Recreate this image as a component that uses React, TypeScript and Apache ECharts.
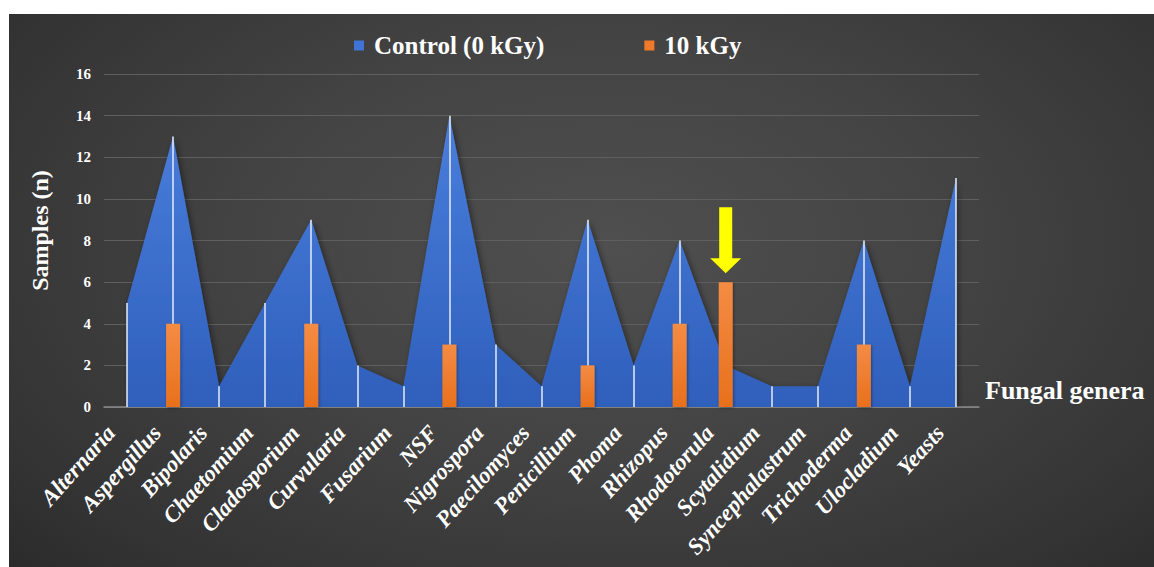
import React, { useEffect, useRef } from "react";
import * as echarts from "echarts";

const categories = [
  "Alternaria", "Aspergillus", "Bipolaris", "Chaetomium", "Cladosporium",
  "Curvularia", "Fusarium", "NSF", "Nigrospora", "Paecilomyces",
  "Penicillium", "Phoma", "Rhizopus", "Rhodotorula", "Scytalidium",
  "Syncephalastrum", "Trichoderma", "Ulocladium", "Yeasts",
];
const controlValues = [5, 13, 1, 5, 9, 2, 1, 14, 3, 1, 9, 2, 8, 2, 1, 1, 8, 1, 11];
const tenKGyValues = [0, 4, 0, 0, 4, 0, 0, 3, 0, 0, 2, 0, 4, 6, 0, 0, 3, 0, 0];
const seriesNames = ["Control (0 kGy)", "10 kGy"];
const yMin = 0;
const yMax = 16;
const yInterval = 2;
const highlightedCategory = "Rhodotorula";
const xAxisTitle = "Fungal genera";
const yAxisTitle = "Samples (n)";

const SERIF = "'Liberation Serif', 'Times New Roman', serif";

export default function App() {
  const ref = useRef<HTMLDivElement>(null);

  useEffect(() => {
    if (!ref.current) return;
    const chart = echarts.init(ref.current, undefined, { renderer: "svg" });
    const hiIndex = categories.indexOf(highlightedCategory);

    const option: any = {
      animation: false,
      backgroundColor: "transparent",
      legend: {
        left: 340,
        top: 14,
        icon: "rect",
        itemWidth: 10,
        itemHeight: 10,
        itemGap: 100,
        textStyle: {
          color: "#ffffff",
          fontFamily: SERIF,
          fontWeight: "bold",
          fontSize: 25,
          padding: [0, 0, 0, 5],
        },
        data: [
          { name: seriesNames[0], itemStyle: { color: "#3f73d6" } },
          { name: seriesNames[1], itemStyle: { color: "#f07a2a" } },
        ],
      },
      grid: { left: 95, right: 175, top: 60, bottom: 160, containLabel: false },
      xAxis: {
        type: "category",
        data: categories,
        boundaryGap: true,
        name: xAxisTitle,
        nameLocation: "end",
        nameGap: 6,
        nameTextStyle: {
          color: "#ffffff",
          fontFamily: SERIF,
          fontWeight: "bold",
          fontSize: 26,
          align: "left",
          verticalAlign: "bottom",
          padding: [0, 0, 4, 0],
        },
        axisLine: { show: true, lineStyle: { color: "#8c8c8c", width: 1.5 } },
        axisTick: { show: false },
        axisLabel: {
          interval: 0,
          rotate: 48,
          margin: 4,
          padding: [0, 24, 0, 0],
          color: "#ffffff",
          fontFamily: SERIF,
          fontWeight: "bold",
          fontStyle: "italic",
          fontSize: 23,
        },
      },
      yAxis: {
        type: "value",
        min: yMin,
        max: yMax,
        interval: yInterval,
        name: yAxisTitle,
        nameLocation: "middle",
        nameGap: 52,
        nameTextStyle: {
          color: "#ffffff",
          fontFamily: SERIF,
          fontWeight: "bold",
          fontSize: 24,
          padding: [0, 0, 0, 20],
        },
        axisLine: { show: false },
        axisTick: { show: false },
        axisLabel: {
          margin: 13,
          color: "#ffffff",
          fontFamily: SERIF,
          fontWeight: "bold",
          fontSize: 15,
        },
        splitLine: { show: true, lineStyle: { color: "#5f5f5f", width: 1 } },
      },
      series: [
        {
          name: seriesNames[0],
          type: "line",
          data: controlValues,
          z: 1,
          showSymbol: false,
          symbol: "none",
          lineStyle: { width: 0 },
          itemStyle: { color: "#3f73d6" },
          areaStyle: {
            opacity: 1,
            color: {
              type: "linear", x: 0, y: 0, x2: 0, y2: 1,
              colorStops: [
                { offset: 0, color: "#4a7edc" },
                { offset: 1, color: "#2f5fbb" },
              ],
            },
            shadowColor: "rgba(0,0,0,0.45)",
            shadowBlur: 6,
            shadowOffsetX: 2,
            shadowOffsetY: 2,
          },
          markLine: {
            silent: true,
            symbol: ["none", "none"],
            z: 2,
            label: { show: false },
            lineStyle: { color: "#e4ecf8", width: 1.5, type: "solid" },
            data: categories.map((c, i) => [
              { coord: [i, 0] },
              { coord: [i, controlValues[i]] },
            ]),
          },
        },
        {
          name: seriesNames[1],
          type: "bar",
          z: 10,
          barWidth: 14,
          data: tenKGyValues.map((v) => (v === 0 ? "-" : v)),
          itemStyle: {
            color: {
              type: "linear", x: 0, y: 0, x2: 0, y2: 1,
              colorStops: [
                { offset: 0, color: "#f48c44" },
                { offset: 1, color: "#e8701c" },
              ],
            },
            shadowColor: "rgba(0,0,0,0.35)",
            shadowBlur: 3,
            shadowOffsetX: 1,
            shadowOffsetY: 1,
          },
          markPoint: {
            silent: true,
            symbol: "path://M9,0 L22,0 L22,51 L31,51 L15.5,66 L0,51 L9,51 Z",
            symbolSize: [31, 66],
            symbolOffset: [0, -42],
            label: { show: false },
            itemStyle: { color: "#ffff00" },
            data: [{ coord: [hiIndex, tenKGyValues[hiIndex]] }],
          },
        },
      ],
    };

    chart.setOption(option);
    return () => chart.dispose();
  }, []);

  return (
    <div
      ref={ref}
      style={{
        position: "absolute",
        left: 9,
        top: 14,
        width: 1145,
        height: 553,
        background:
          "radial-gradient(ellipse 75% 90% at 52% 42%, #4f4f4f 0%, #444444 40%, #333333 80%, #282828 100%)",
      }}
    />
  );
}
